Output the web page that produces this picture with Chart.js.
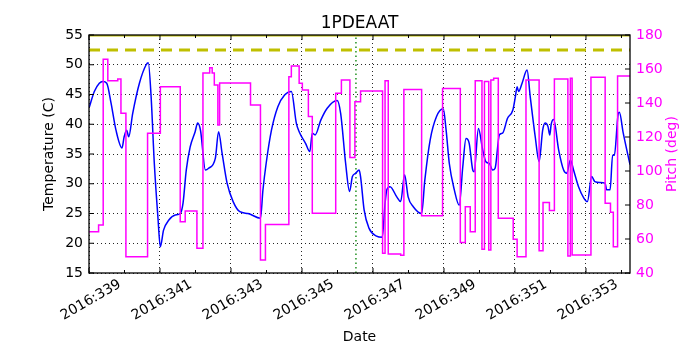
<!DOCTYPE html>
<html>
<head>
<meta charset="utf-8">
<script src="https://cdn.jsdelivr.net/npm/chart.js@4"></script>
<style>
  body { margin: 0; background: #fff; }
</style>
</head>
<body>
<canvas id="chart" width="700" height="350"></canvas>
<script>
// day of year (2016) for the temperature samples
const tempDays = [339.01, 339.15, 339.29, 339.39, 339.50, 339.62, 339.76, 339.93, 339.99, 340.06,
  340.12, 340.23, 340.42, 340.61, 340.67, 340.75, 340.84, 340.94, 341.01, 341.10,
  341.25, 341.43, 341.57, 341.65, 341.74, 341.85, 341.99, 342.06, 342.14, 342.28,
  342.37, 342.56, 342.65, 342.75, 342.89, 343.06, 343.25, 343.48, 343.83, 343.90,
  343.99, 344.14, 344.32, 344.51, 344.70, 344.84, 344.92, 345.10, 345.22, 345.29,
  345.37, 345.53, 345.71, 345.99, 346.09, 346.23, 346.34, 346.42, 346.51, 346.61,
  346.65, 346.75, 346.89, 347.10, 347.26, 347.34, 347.39, 347.48, 347.67, 347.78,
  347.89, 347.99, 348.14, 348.37, 348.46, 348.61, 348.79, 348.98, 349.06, 349.15,
  349.29, 349.43, 349.53, 349.62, 349.71, 349.81, 349.85, 349.97, 350.09, 350.18,
  350.28, 350.37, 350.44, 350.56, 350.65, 350.79, 350.94, 351.01, 351.06, 351.10,
  351.20, 351.34, 351.43, 351.57, 351.68, 351.78, 351.85, 351.93, 351.98, 352.02,
  352.09, 352.23, 352.37, 352.46, 352.56, 352.65, 352.79, 352.94, 353.04, 353.16,
  353.25, 353.39, 353.54, 353.58, 353.68, 353.75, 353.80, 353.91, 353.94, 354.05,
  354.24];
// temperature (C)
const tempValues = [42.9, 45.5, 46.9, 47.2, 46.9, 43.6, 39.0, 36.0, 37.9, 39.0,
  37.9, 41.8, 46.9, 50.0, 50.35, 44.6, 33.4, 24.5, 19.4, 22.2,
  23.9, 24.75, 25.0, 26.8, 32.3, 36.2, 38.75, 40.2, 39.0, 32.3,
  32.6, 34.3, 38.75, 35.1, 30.1, 27.0, 25.3, 25.0, 24.2, 28.95,
  33.4, 39.0, 42.95, 44.9, 45.5, 40.2, 38.75, 36.8, 35.4, 38.5,
  38.2, 40.7, 42.7, 44.0, 41.8, 33.4, 28.7, 31.2, 31.75, 32.3,
  31.2, 25.6, 22.5, 21.2, 21.0, 26.7, 29.0, 29.5, 27.8, 27.0,
  31.5, 27.8, 26.1, 25.0, 30.6, 37.35, 41.3, 42.6, 39.0, 33.4,
  29.0, 26.4, 32.9, 37.6, 36.8, 32.3, 32.0, 39.3, 35.7, 33.7,
  33.4, 32.3, 32.6, 38.2, 38.5, 41.0, 42.4, 44.6, 46.3, 45.5,
  46.9, 49.1, 44.6, 37.9, 33.7, 39.0, 40.2, 39.6, 38.2, 40.0,
  40.8, 35.7, 32.3, 31.75, 34.0, 32.3, 29.5, 27.6, 27.0, 31.2,
  30.35, 30.2, 30.1, 29.0, 29.0, 34.8, 34.8, 41.8, 42.0, 38.5,
  33.2];

// pitch: each value holds from its day until the next one
const pitchDays = [339.0, 339.27, 339.40, 339.53, 339.81, 339.90, 340.04, 340.65, 341.01, 341.57,
  341.71, 342.04, 342.21, 342.40, 342.47, 342.53, 342.63, 342.68, 343.55, 343.83,
  343.97, 344.63, 344.70, 344.92, 345.01, 345.18, 345.29, 345.95, 346.11, 346.35,
  346.49, 346.65, 347.27, 347.34, 347.43, 347.78, 347.87, 348.37, 348.96, 349.46,
  349.60, 349.74, 349.88, 350.07, 350.14, 350.26, 350.32, 350.40, 350.53, 350.95,
  351.06, 351.31, 351.68, 351.79, 351.97, 352.11, 352.49, 352.56, 352.61, 353.14,
  353.54, 353.69, 353.77, 353.89, 354.24];
const pitchValues = [64.3, 68.2, 165.7, 153.1, 154.1, 134, 49.6, 122.2, 149.6, 70.2,
  76.5, 54.5, 157.6, 160.8, 157.6, 150.6, 127, 151.8, 138.8, 47.6,
  68.6, 155.5, 161.8, 151.6, 147.6, 132, 75.1, 145.7, 153.5, 108,
  140.8, 147.1, 51.6, 153.1, 51.2, 50.5, 148, 73.7, 148.6, 58.0,
  79.0, 64.3, 153.1, 53.9, 152.6, 53.5, 153.5, 154.5, 72.2, 59.8,
  49.6, 153.5, 53.1, 81.4, 76.7, 154.1, 50, 154.5, 50.6, 155.1,
  81, 75.7, 55.5, 155.9, 155.9];

const dayRange = [339, 354.24];
const tempRange = [15, 55];
const pitchRange = [40, 180];
const dashedLimit = 52.5;
const solidLimit = 55;
const markerDay = 346.52;

const FONT = '"DejaVu Sans", sans-serif';

function pairs(xs, ys) {
  return xs.map((x, i) => ({x: x, y: ys[i]}));
}

// title, right axis label, frame + inward ticks like matplotlib
const decorPlugin = {
  id: 'decor',
  afterDraw(chart) {
    const {ctx, chartArea: a, scales} = chart;
    ctx.save();
    ctx.fillStyle = '#000';
    ctx.font = '17px ' + FONT;
    ctx.textAlign = 'center';
    ctx.textBaseline = 'alphabetic';
    ctx.fillText('1PDEAAT', (a.left + a.right) / 2, 28);

    ctx.save();
    ctx.fillStyle = '#ff00ff';
    ctx.font = '14px ' + FONT;
    ctx.textBaseline = 'middle';
    ctx.translate(672, (a.top + a.bottom) / 2);
    ctx.rotate(-Math.PI / 2);
    ctx.fillText('Pitch (deg)', 0, 0);
    ctx.restore();

    ctx.strokeStyle = '#000';
    ctx.lineWidth = 1;
    ctx.beginPath();
    scales.x.ticks.forEach(t => {
      const px = scales.x.getPixelForValue(t.value);
      const len = t.value % 2 === 1 ? 5 : 3;
      ctx.moveTo(px, a.bottom); ctx.lineTo(px, a.bottom - len);
      ctx.moveTo(px, a.top); ctx.lineTo(px, a.top + len);
    });
    scales.yT.ticks.forEach(t => {
      const py = scales.yT.getPixelForValue(t.value);
      ctx.moveTo(a.left, py); ctx.lineTo(a.left + 5, py);
    });
    scales.yP.ticks.forEach(t => {
      const py = scales.yP.getPixelForValue(t.value);
      ctx.moveTo(a.right, py); ctx.lineTo(a.right - 5, py);
    });
    ctx.stroke();

    ctx.lineWidth = 1.3;
    ctx.strokeRect(a.left, a.top, a.right - a.left, a.bottom - a.top);
    ctx.restore();
  }
};

new Chart(document.getElementById('chart'), {
  type: 'line',
  data: {
    datasets: [
      {
        data: pairs(pitchDays, pitchValues),
        yAxisID: 'yP',
        borderColor: '#ff00ff',
        borderWidth: 1.5,
        stepped: 'before',
        pointRadius: 0,
        fill: false
      },
      {
        data: pairs(tempDays, tempValues),
        yAxisID: 'yT',
        borderColor: '#0000ff',
        borderWidth: 1.5,
        cubicInterpolationMode: 'monotone',
        pointRadius: 0,
        fill: false
      },
      {
        data: pairs(dayRange, [dashedLimit, dashedLimit]),
        yAxisID: 'yT',
        borderColor: 'rgb(191,191,0)',
        borderWidth: 3,
        borderDash: [11, 7],
        pointRadius: 0
      },
      {
        data: pairs(dayRange, [solidLimit, solidLimit]),
        yAxisID: 'yT',
        borderColor: 'rgb(191,191,0)',
        borderWidth: 3,
        pointRadius: 0
      },
      {
        data: pairs([markerDay, markerDay], tempRange),
        yAxisID: 'yT',
        borderColor: 'rgb(0,128,0)',
        borderWidth: 1.3,
        borderDash: [1.5, 3],
        pointRadius: 0
      }
    ]
  },
  options: {
    responsive: false,
    animation: false,
    layout: { padding: { top: 35, left: 0, right: 0, bottom: 0 } },
    plugins: {
      legend: { display: false },
      tooltip: { enabled: false },
      title: { display: false }
    },
    scales: {
      x: {
        type: 'linear',
        position: 'bottom',
        min: dayRange[0],
        max: dayRange[1],
        afterFit: s => { s.height = 77; },
        border: { display: false, dash: [1, 3] },
        grid: {
          drawTicks: false,
          color: c => (c.tick && c.tick.value % 2 === 1) ? 'rgba(0,0,0,0.85)' : 'rgba(0,0,0,0)',
          lineWidth: 1
        },
        ticks: {
          stepSize: 1,
          autoSkip: false,
          includeBounds: false,
          maxRotation: 30,
          minRotation: 30,
          labelOffset: 31,
          padding: 3,
          color: '#000',
          font: { family: FONT, size: 14 },
          callback: v => v % 2 === 1 ? '2016:' + v : ''
        },
        title: {
          display: true,
          text: 'Date',
          color: '#000',
          font: { family: FONT, size: 14 },
          padding: { top: 4, bottom: 4 }
        }
      },
      yT: {
        type: 'linear',
        position: 'left',
        min: tempRange[0],
        max: tempRange[1],
        afterFit: s => { s.width = 89; },
        border: { display: false, dash: [1, 3] },
        grid: {
          drawTicks: false,
          color: 'rgba(0,0,0,0.85)',
          lineWidth: 1
        },
        ticks: {
          stepSize: 5,
          padding: 6,
          color: '#000',
          font: { family: FONT, size: 14 }
        },
        title: {
          display: true,
          text: 'Temperature (C)',
          color: '#000',
          font: { family: FONT, size: 14 },
          padding: { top: 41, bottom: 41 }
        }
      },
      yP: {
        type: 'linear',
        position: 'right',
        min: pitchRange[0],
        max: pitchRange[1],
        afterFit: s => { s.width = 70; },
        border: { display: false },
        grid: { display: false, drawTicks: false },
        ticks: {
          stepSize: 20,
          padding: 6,
          color: '#ff00ff',
          font: { family: FONT, size: 14 }
        },
        title: { display: false }
      }
    }
  },
  plugins: [decorPlugin]
});
</script>
</body>
</html>
